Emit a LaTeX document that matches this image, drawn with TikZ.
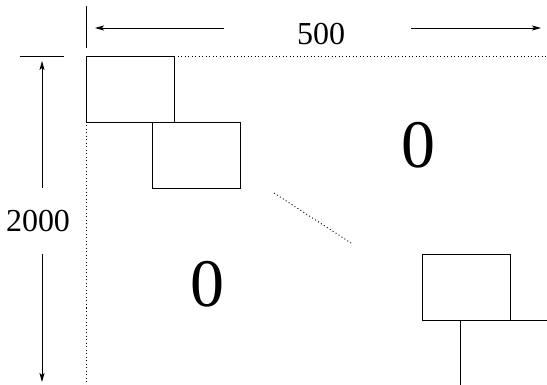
\documentclass[tikz,border=0pt]{standalone}
\usepackage{fontspec}
\setmainfont{Liberation Serif}
\usetikzlibrary{arrows.meta}
\begin{document}
\begin{tikzpicture}[x=1pt,y=-1pt,
  line width=0.9pt,
  blk/.style={draw,line width=0.9pt,minimum width=88pt,minimum height=66pt,inner sep=0pt,outer sep=0pt,anchor=north west},
  dim/.style={-{Stealth[length=9pt,width=5pt,inset=2pt]},line width=0.8pt},
  dots/.style={line width=0.9pt,dash pattern=on 1pt off 2.5pt},
  lbl/.style={font=\fontsize{32}{32}\selectfont,inner sep=0pt},
  zero/.style={font=\fontsize{68}{68}\selectfont,inner sep=0pt}]
\useasboundingbox (0,0) rectangle (547,385);
% boxes
\node[blk] (b1) at (86,56) {};
\node[blk] (b2) at (152,122) {};
\node[blk] (b3) at (422,254) {};
% labels
\node[lbl] (w) at (321,34) {500};
\node[lbl] (h) at (38,221) {2000};
\node[zero] (z1) at (418,145) {0};
\node[zero] (z2) at (207,284) {0};
% coordinates
\coordinate (vt1) at (86,6);
\coordinate (vt2) at (86,48);
\coordinate (ht1) at (20,56);
\coordinate (ht2) at (64,56);
\coordinate (aL1) at (224,28);
\coordinate (aL2) at (95,28);
\coordinate (aR1) at (411,28);
\coordinate (aR2) at (541,28);
\coordinate (aU1) at (42,188);
\coordinate (aU2) at (42,61);
\coordinate (aD1) at (42,254);
\coordinate (aD2) at (42,382);
\coordinate (dr) at (547,56);
\coordinate (db) at (86,385);
\coordinate (dg1) at (274,193);
\coordinate (dg2) at (351,243);
\coordinate (le) at (547,320);
\coordinate (vb1) at (460,320);
\coordinate (vb2) at (460,385);
% ticks
\draw (vt1) -- (vt2);
\draw (ht1) -- (ht2);
% dimension arrows
\draw[dim] (aL1) -- (aL2);
\draw[dim] (aR1) -- (aR2);
\draw[dim] (aU1) -- (aU2);
\draw[dim] (aD1) -- (aD2);
% dotted guides
\draw[dots] (b1.north east) -- (dr);
\draw[dots] (b1.south west) -- (db);
\draw[dots] (dg1) -- (dg2);
% lines from last block
\draw (b3.south east) -- (b3.south east -| le);
\draw (b3.south -| vb1) -- (vb2);
\end{tikzpicture}
\end{document}
